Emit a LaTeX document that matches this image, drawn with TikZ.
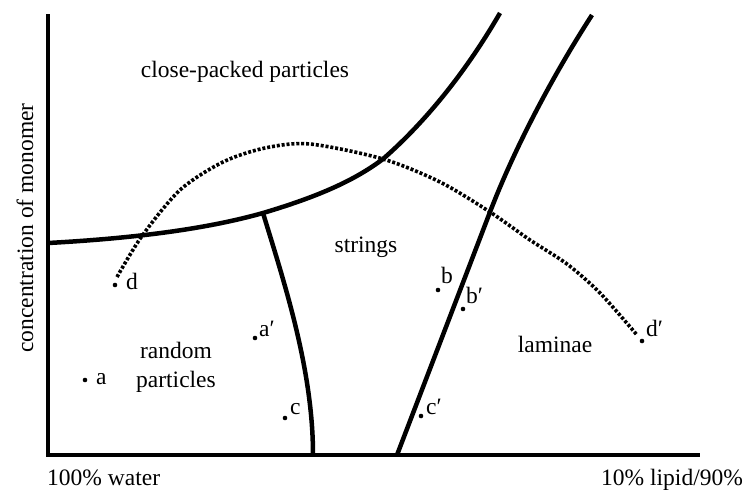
\documentclass[tikz,border=0pt]{standalone}
\usepackage{fontspec}
\setmainfont{Liberation Serif}
\begin{document}
\begin{tikzpicture}[x=1pt,y=-1pt,
  bound/.style={line width=4.5pt},
  dotline/.style={line width=3.6pt, dash pattern=on 3pt off 1.9pt},
  pt/.style={circle, fill, inner sep=0pt, minimum size=4.6pt},
  lbl/.style={anchor=base west, inner sep=0pt},
  region/.style={anchor=base, inner sep=0pt, align=center},
  every node/.style={font=\fontsize{23.5}{28}\selectfont}]
\useasboundingbox (0,0) rectangle (747,491);
% axes
\coordinate (top) at (48,14);
\coordinate (origin) at (48,455);
\coordinate (xend) at (700,455);
\draw[bound] (top) -- (origin) -- (xend);
% boundary curves
\coordinate (j1) at (263,213);
\coordinate (cp) at (383,159);
\coordinate (lstart) at (48,243);
\coordinate (ltop) at (500,13);
\coordinate (sbot) at (313,455);
\coordinate (rbot) at (397,455);
\coordinate (rmid) at (490,212);
\coordinate (rtop) at (592,15);
\draw[bound] (lstart) .. controls (140,238) and (210,228) .. (j1)
  .. controls (320,196) and (355,180) .. (cp)
  .. controls (430,118) and (470,65) .. (ltop);
\draw[bound] (j1) .. controls (285,285) and (313,370) .. (sbot);
\draw[bound] (rbot) .. controls (428,374) and (459,293) .. (rmid)
  .. controls (513,152) and (550,80) .. (rtop);
% dotted path
\draw[dotline] plot[smooth] coordinates {(117,277) (142,236) (180,190) (223,162) (265,148) (310,144) (383,159) (440,182) (490,212) (530,240) (567,264) (600,293) (637,335)};
% points
\node[pt] (pa) at (85,380) {};
\node[pt] (pd) at (115,285) {};
\node[pt] (pa2) at (255,338) {};
\node[pt] (pc) at (285,418) {};
\node[pt] (pb) at (438,290) {};
\node[pt] (pb2) at (463,309) {};
\node[pt] (pc2) at (421,416) {};
\node[pt] (pd2) at (642,341) {};
\node[lbl] (la) at (96,384) {a};
\node[lbl] (ld) at (126,289) {d};
\node[lbl] (la2) at (259,336) {a′};
\node[lbl] (lc) at (290,414) {c};
\node[lbl] (lb) at (441,283) {b};
\node[lbl] (lb2) at (466,303) {b′};
\node[lbl] (lc2) at (426,414) {c′};
\node[lbl] (ld2) at (646,336) {d′};
% region labels
\node[region] (close) at (245,77) {close-packed particles};
\node[region] (strings) at (366,252) {strings};
\node[region] (random) at (176,358) {random};
\node[region] (random2) at (176,387) {particles};
\node[region] (lam) at (555,352) {laminae};
% axis labels
\node[lbl] (water) at (47,485) {100\% water};
\node[lbl] (lipid) at (601,485) {10\% lipid/90\%};
\node[region, rotate=90] (ylab) at (33,228) {concentration of monomer};
\end{tikzpicture}
\end{document}
